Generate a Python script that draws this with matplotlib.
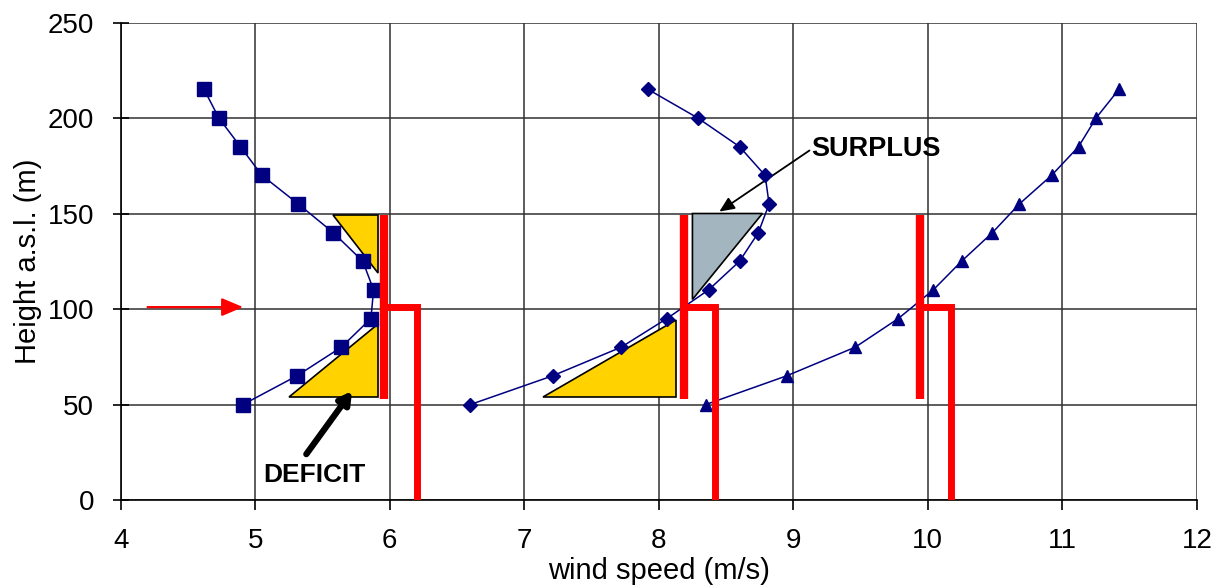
import matplotlib.pyplot as plt
import numpy as np

plt.rcParams['font.family'] = ['Liberation Sans', 'DejaVu Sans']

# wind profiles (heights in m a.s.l., speeds in m/s)
heights = [50, 65, 80, 95, 110, 125, 140, 155, 170, 185, 200, 215]
speed_sq = [4.91, 5.31, 5.64, 5.86, 5.88, 5.80, 5.58, 5.32, 5.05, 4.89, 4.73, 4.62]
speed_di = [6.60, 7.21, 7.72, 8.06, 8.37, 8.60, 8.74, 8.82, 8.79, 8.60, 8.29, 7.92]
speed_tr = [8.35, 8.95, 9.46, 9.78, 10.04, 10.25, 10.48, 10.68, 10.92, 11.12, 11.25, 11.42]

# turbines: rotor line and tower
rotor_x = [5.96, 8.19, 9.94]
tower_x = [6.20, 8.42, 10.17]
rotor_bottom = 53
rotor_top = 149
hub = 101

# deficit / surplus triangles
deficit_1_x = [5.58, 5.91, 5.91]
deficit_1_y = [149, 149, 119]
deficit_2_x = [5.25, 5.91, 5.91]
deficit_2_y = [54, 54, 92]
deficit_3_x = [7.14, 8.13, 8.13]
deficit_3_y = [54, 54, 94]
surplus_x = [8.25, 8.77, 8.25]
surplus_y = [150, 150, 105]

fig = plt.figure(figsize=(12.2, 5.85), dpi=100)
ax = fig.add_axes([0.0989, 0.1453, 0.8822, 0.8162])

navy = '#000080'
ax.plot(speed_sq, heights, color=navy, lw=1.1, marker='s', ms=9.5, zorder=4)
ax.plot(speed_di, heights, color=navy, lw=1.1, marker='D', ms=7.5, zorder=4)
ax.plot(speed_tr, heights, color=navy, lw=1.1, marker='^', ms=9, zorder=4)

yellow = '#FFD200'
for px, py in [(deficit_1_x, deficit_1_y), (deficit_2_x, deficit_2_y), (deficit_3_x, deficit_3_y)]:
    ax.fill(px, py, facecolor=yellow, edgecolor='black', lw=1.2, zorder=3)
ax.fill(surplus_x, surplus_y, facecolor='#A3B5BF', edgecolor='black', lw=1.2, zorder=3)

for rx, tx in zip(rotor_x, tower_x):
    ax.plot([rx, rx], [rotor_bottom, rotor_top], color='red', lw=6, solid_capstyle='butt', zorder=5)
    ax.plot([rx, tx, tx], [hub, hub, 0], color='red', lw=5, solid_capstyle='butt',
            solid_joinstyle='miter', zorder=5)

# hub height arrow
ax.annotate('', xy=(4.91, 101), xytext=(4.2, 101),
            arrowprops=dict(arrowstyle='-|>,head_length=1.3,head_width=0.55', color='red', lw=1.6,
                            shrinkA=0, shrinkB=0))

# deficit / surplus labels
ax.annotate('', xy=(5.72, 57), xytext=(5.38, 24),
            arrowprops=dict(arrowstyle='-|>,head_length=0.7,head_width=0.4', color='black', lw=4.5,
                            shrinkA=0, shrinkB=0))
ax.text(5.44, 13, 'DEFICIT', ha='center', va='center', fontsize=19, fontweight='bold')
ax.annotate('', xy=(8.45, 151), xytext=(9.12, 183),
            arrowprops=dict(arrowstyle='-|>,head_length=0.9,head_width=0.4', color='black', lw=1.3,
                            shrinkA=0, shrinkB=0))
ax.text(9.13, 184, 'SURPLUS', ha='left', va='center', fontsize=19.5, fontweight='bold')

ax.set_xlim(4, 12)
ax.set_ylim(0, 250)
ax.set_xticks(np.arange(4, 13, 1))
ax.set_yticks(np.arange(0, 251, 50))
ax.grid(True, color='#303030', lw=1.1)
ax.set_axisbelow(True)
for s in ['top', 'right']:
    ax.spines[s].set_visible(False)
ax.spines['left'].set_linewidth(1.2)
ax.spines['bottom'].set_linewidth(1.2)
ax.tick_params(axis='y', direction='inout', length=12, width=1.2, pad=13, labelsize=20)
ax.tick_params(axis='x', direction='out', length=7, width=1.2, pad=13, labelsize=20)
ax.set_xlabel('wind speed (m/s)', fontsize=21, labelpad=2)
ax.set_ylabel('Height a.s.l. (m)', fontsize=21, labelpad=4)

plt.savefig('out.png', dpi=100)
